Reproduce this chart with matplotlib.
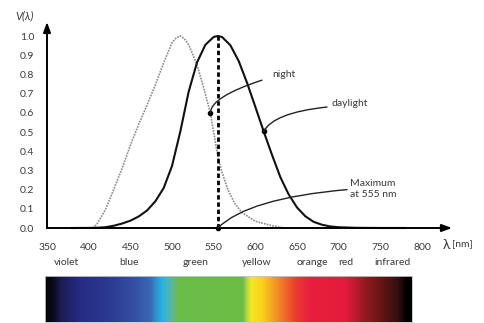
import numpy as np
import matplotlib
matplotlib.use("Agg")
import matplotlib.pyplot as plt
from matplotlib.colors import LinearSegmentedColormap

plt.rcParams['font.family'] = ['Lato', 'DejaVu Sans']

# photopic (daylight) and scotopic (night) sensitivity
day_nm = [380, 400, 410, 420, 430, 440, 450, 460, 470, 480, 490, 500, 510, 520, 530,
          540, 550, 555, 560, 570, 580, 590, 600, 610, 620, 630, 640, 650, 660, 670,
          680, 690, 700, 720, 750, 780]
day_v = [0.0, 0.0004, 0.0012, 0.004, 0.0116, 0.023, 0.038, 0.06, 0.091, 0.139, 0.208,
         0.323, 0.503, 0.71, 0.862, 0.954, 0.995, 1.0, 0.995, 0.952, 0.87, 0.757, 0.631,
         0.503, 0.381, 0.265, 0.175, 0.107, 0.061, 0.032, 0.017, 0.008, 0.004, 0.001,
         0.0001, 0.0]

night_nm = [405, 410, 420, 430, 440, 450, 460, 470, 480, 490, 500, 505, 510, 515, 520,
            530, 538, 546, 550, 555, 560, 567, 575, 584, 600, 620, 635]
night_v = [0.0, 0.02, 0.095, 0.2, 0.31, 0.43, 0.54, 0.64, 0.745, 0.86, 0.965, 0.99, 1.0,
           0.985, 0.955, 0.85, 0.73, 0.6, 0.5, 0.37, 0.29, 0.2, 0.13, 0.08, 0.035, 0.012, 0.0]

peak_nm = 555
x_ticks = [350, 400, 450, 500, 550, 600, 650, 700, 750, 800]
y_ticks = [0.0, 0.1, 0.2, 0.3, 0.4, 0.5, 0.6, 0.7, 0.8, 0.9, 1.0]

colour_names = ['violet', 'blue', 'green', 'yellow', 'orange', 'red', 'infrared']
colour_nm = [374, 448, 528, 602, 668, 709, 765]

spectrum_nm = [348, 357, 368, 390, 426, 456, 474, 482, 488, 494, 501, 507, 585, 590,
               595, 608, 621, 636, 650, 666, 708, 720, 735, 756, 771, 777, 782, 788]
spectrum_colors = ['#050505', '#0a0a20', '#1c1c5a', '#262c82', '#2c3a92', '#3550a2',
                   '#3a68b6', '#2e98d0', '#22b4e2', '#48b4c0', '#62b888', '#6abc4a',
                   '#6cbc44', '#b8d43a', '#f2e622', '#fcd21e', '#f7a224', '#f06a2c',
                   '#ec3834', '#e81e3c', '#e41c3c', '#c01a30', '#8a1a1e', '#5a1414',
                   '#341010', '#1a0a0a', '#000000', '#000000']

W, H = 485, 323
fig = plt.figure(figsize=(W / 100, H / 100), dpi=100)

# main axes: x 350 nm at px 47, 800 nm at px 422; y 0 at px 228, 1.0 at px 36
ax = fig.add_axes([47 / W, (H - 228) / H, (452 - 47) / W, (228 - 22) / H])
ax.set_xlim(350, 350 + (452 - 47) * 1.2)
ax.set_ylim(0, (228 - 22) / 192)
for s in ax.spines.values():
    s.set_visible(False)
ax.patch.set_alpha(0)

txt = '#3a3a3a'
ax.set_xticks(x_ticks)
ax.set_yticks(y_ticks)
ax.set_yticklabels([f'{v:.1f}' for v in y_ticks])
ax.tick_params(length=0, labelsize=7.5, labelcolor=txt)
ax.tick_params(axis='x', pad=11)
ax.tick_params(axis='y', pad=9)

# axis arrows
arrow = dict(arrowstyle='-|>,head_length=0.6,head_width=0.22', color='black', lw=1.4,
             shrinkA=0, shrinkB=0)
ax.annotate('', xy=(0, 1), xytext=(0, 0), xycoords='axes fraction', arrowprops=arrow)
ax.annotate('', xy=(1, 0), xytext=(0, 0), xycoords='axes fraction', arrowprops=arrow)

ax.plot(night_nm, night_v, color='#8a8a8a', lw=1.2, ls=(0, (1, 0.7)), clip_on=False)
ax.plot(day_nm, day_v, color='#111111', lw=1.5, clip_on=False)
ax.plot([peak_nm, peak_nm], [0, 1.0], color='black', lw=2, ls=(0, (1.6, 1.0)))

# callouts
lead = dict(arrowstyle='-', color='#222222', lw=1.0, shrinkA=0, shrinkB=0)
n_x = 546
n_y = np.interp(n_x, night_nm, night_v)
ax.plot(n_x, n_y, 'o', color='black', ms=3)
ax.annotate('', xy=(n_x, n_y), xytext=(608, 0.77),
            arrowprops=dict(lead, connectionstyle='angle3,angleA=18,angleB=88'))
ax.text(620, 0.80, 'night', fontsize=7.5, color=txt, va='center')

d_x = 610
d_y = np.interp(d_x, day_nm, day_v)
ax.plot(d_x, d_y, 'o', color='black', ms=3)
ax.annotate('', xy=(d_x, d_y), xytext=(686, 0.63),
            arrowprops=dict(lead, connectionstyle='angle3,angleA=6,angleB=62'))
ax.text(692, 0.651, 'daylight', fontsize=7.5, color=txt, va='center')

ax.plot(peak_nm, 0, 'o', color='black', ms=3, clip_on=False)
ax.annotate('', xy=(peak_nm, 0), xytext=(710, 0.2),
            arrowprops=dict(lead, connectionstyle='angle3,angleA=5,angleB=45'))
ax.text(714, 0.203, 'Maximum\nat 555 nm', fontsize=7.5, color=txt, va='center',
        ha='left', linespacing=1.2)

# colour names under tick labels
for name, nm in zip(colour_names, colour_nm):
    ax.annotate(name, xy=(nm, 0), xytext=(0, -25), textcoords='offset points',
                ha='center', va='center', fontsize=7.5, color=txt)

fig.text(15 / W, 1 - 16 / H, 'V(λ)', fontsize=8, style='italic', color=txt,
         va='center', ha='left')
fig.text(443 / W, 1 - 245 / H, 'λ', fontsize=10, color=txt, va='center', ha='left')
fig.text(452 / W, 1 - 245 / H, '[nm]', fontsize=7.5, color=txt, va='center', ha='left')

# spectrum bar
bax = fig.add_axes([45 / W, (H - 322) / H, (412 - 45) / W, (322 - 276) / H])
lo, hi = spectrum_nm[0], spectrum_nm[-1]
stops = [((n - lo) / (hi - lo), c) for n, c in zip(spectrum_nm, spectrum_colors)]
cmap = LinearSegmentedColormap.from_list('spectrum', stops, N=512)
grad = np.linspace(0, 1, 600).reshape(1, -1)
bax.imshow(grad, aspect='auto', cmap=cmap, extent=[lo, hi, 0, 1])
bax.set_xticks([])
bax.set_yticks([])
for s in bax.spines.values():
    s.set_color('#c8c8c8')
    s.set_linewidth(0.6)

fig.savefig('out.png', dpi=100)
